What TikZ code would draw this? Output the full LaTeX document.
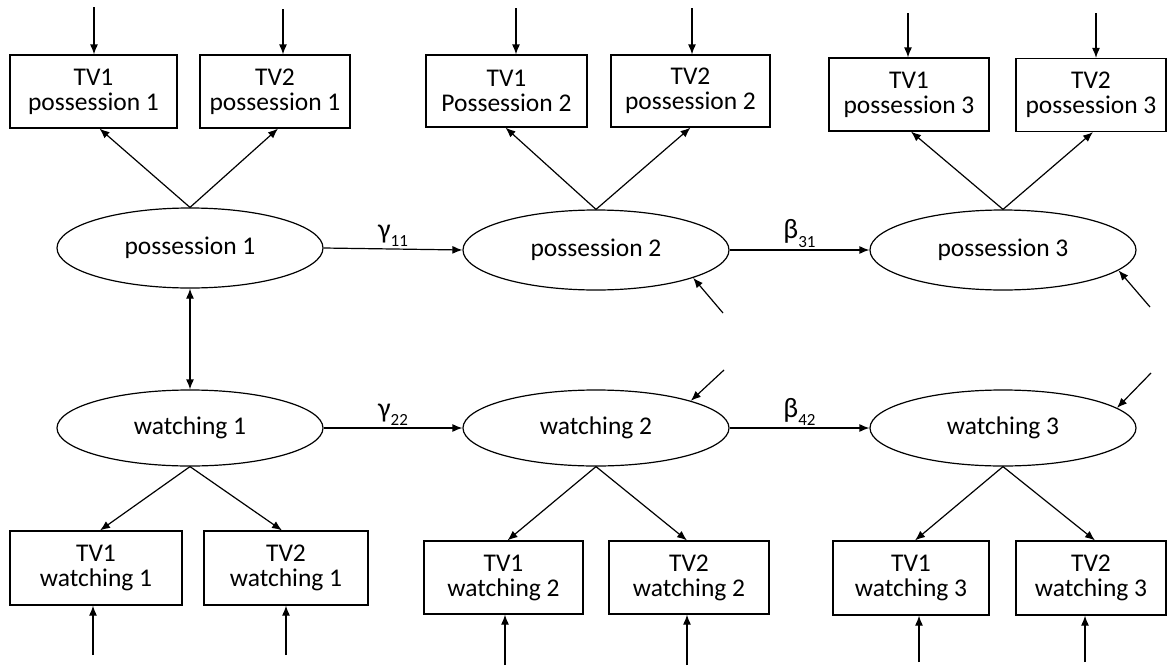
\documentclass[tikz,border=0pt]{standalone}
\usepackage{fontspec}
\setmainfont{Carlito}
\usetikzlibrary{arrows.meta,shapes.geometric}
\newcommand\coefsub[1]{\raisebox{-0.3em}{\fontsize{17}{17}\selectfont #1}}
\begin{document}
\begin{tikzpicture}[x=1pt,y=-1pt,
 font=\fontsize{25.5}{25}\selectfont,
 box/.style={draw, line width=1.2pt, rectangle, align=center, inner sep=0pt, minimum height=73pt},
 lat/.style={draw, line width=1.2pt, ellipse, inner sep=0pt, minimum width=266pt},
 arr/.style={line width=1.2pt, -{Latex[length=10pt,width=8pt]}},
 dbl/.style={line width=1.2pt, {Latex[length=10pt,width=8pt]}-{Latex[length=10pt,width=8pt]}},
 coef/.style={above=1pt, inner sep=1pt, font=\fontsize{28}{28}\selectfont}]
\useasboundingbox (0,0) rectangle (1171,667);

% latent variables
\node[lat, minimum height=80pt] (p1) at (190,248) {possession 1};
\node[lat, minimum height=80pt] (p2) at (596,250) {possession 2};
\node[lat, minimum height=80pt] (p3) at (1003,250) {possession 3};
\node[lat, minimum height=76pt] (w1) at (190,428) {watching 1};
\node[lat, minimum height=76pt] (w2) at (596,428) {watching 2};
\node[lat, minimum height=76pt] (w3) at (1003,428) {watching 3};

% indicators top
\node[box, minimum width=167pt] (tp11) at (93.5,91.5) {TV1\\possession 1};
\node[box, minimum width=150pt] (tp21) at (275,91.5) {TV2\\possession 1};
\node[box, minimum width=161pt, minimum height=72pt] (tp12) at (506.5,91) {TV1\\Possession 2};
\node[box, minimum width=159pt, minimum height=72pt] (tp22) at (690.5,91) {TV2\\possession 2};
\node[box, minimum width=160pt] (tp13) at (909,94.5) {TV1\\possession 3};
\node[box, minimum width=150pt] (tp23) at (1091,95) {TV2\\possession 3};

% indicators bottom
\node[box, minimum width=172pt, minimum height=74pt] (tw11) at (96,568) {TV1\\watching 1};
\node[box, minimum width=164pt, minimum height=74pt] (tw21) at (286,568) {TV2\\watching 1};
\node[box, minimum width=159pt] (tw12) at (503.5,577.5) {TV1\\watching 2};
\node[box, minimum width=160pt] (tw22) at (689,577.5) {TV2\\watching 2};
\node[box, minimum width=156pt, minimum height=74pt] (tw13) at (911,578) {TV1\\watching 3};
\node[box, minimum width=150pt, minimum height=74pt] (tw23) at (1091,578) {TV2\\watching 3};

% error coordinates (top)
\coordinate (e11) at (94,7);
\coordinate (e21) at (283,9);
\coordinate (e12) at (516,8);
\coordinate (e22) at (692,8);
\coordinate (e13) at (908,13);
\coordinate (e23) at (1096,13);
% error coordinates (bottom)
\coordinate (f11) at (93,655);
\coordinate (f21) at (286,655);
\coordinate (f12) at (505,665);
\coordinate (f22) at (687,665);
\coordinate (f13) at (919,662);
\coordinate (f23) at (1085,662);
% disturbances
\coordinate (dp2) at (723,313);
\coordinate (dp3) at (1150,307);
\coordinate (dw2) at (724,370);
\coordinate (dw3) at (1151,373);

% error arrows
\foreach \e/\b in {e11/tp11,e21/tp21,e12/tp12,e22/tp22,e13/tp13,e23/tp23}
  \draw[arr] (\e) -- (\e |- \b.north);
\foreach \e/\b in {f11/tw11,f21/tw21,f12/tw12,f22/tw22,f13/tw13,f23/tw23}
  \draw[arr] (\e) -- (\e |- \b.south);

% loadings
\draw[arr] (p1.north) -- ([xshift=6pt]tp11.south);
\draw[arr] (p1.north) -- ([xshift=3pt]tp21.south);
\draw[arr] (p2.north) -- ([xshift=-1pt]tp12.south);
\draw[arr] (p2.north) -- (tp22.south);
\draw[arr] (p3.north) -- ([xshift=2pt]tp13.south);
\draw[arr] (p3.north) -- ([xshift=2pt]tp23.south);
\draw[arr] (w1.south) -- ([xshift=4pt]tw11.north);
\draw[arr] (w1.south) -- ([xshift=-4pt]tw21.north);
\draw[arr] (w2.south) -- ([xshift=4pt]tw12.north);
\draw[arr] (w2.south) -- ([xshift=-2pt]tw22.north);
\draw[arr] (w3.south) -- ([xshift=4pt]tw13.north);
\draw[arr] (w3.south) -- ([xshift=4pt]tw23.north);

% structural paths
\draw[arr] (p1.east) -- node[coef] {γ\coefsub{11}} (p2.west);
\draw[arr] (p2.east) -- node[coef] {β\coefsub{31}} (p3.west);
\draw[arr] (w1.east) -- node[coef] {γ\coefsub{22}} (w2.west);
\draw[arr] (w2.east) -- node[coef] {β\coefsub{42}} (w3.west);
\draw[dbl] (p1.south) -- (w1.north);

% disturbance arrows
\draw[arr] (dp2) -- (p2.-16);
\draw[arr] (dp3) -- (p3.-10);
\draw[arr] (dw2) -- (w2.16);
\draw[arr] (dw3) -- (w3.10);
\end{tikzpicture}
\end{document}
